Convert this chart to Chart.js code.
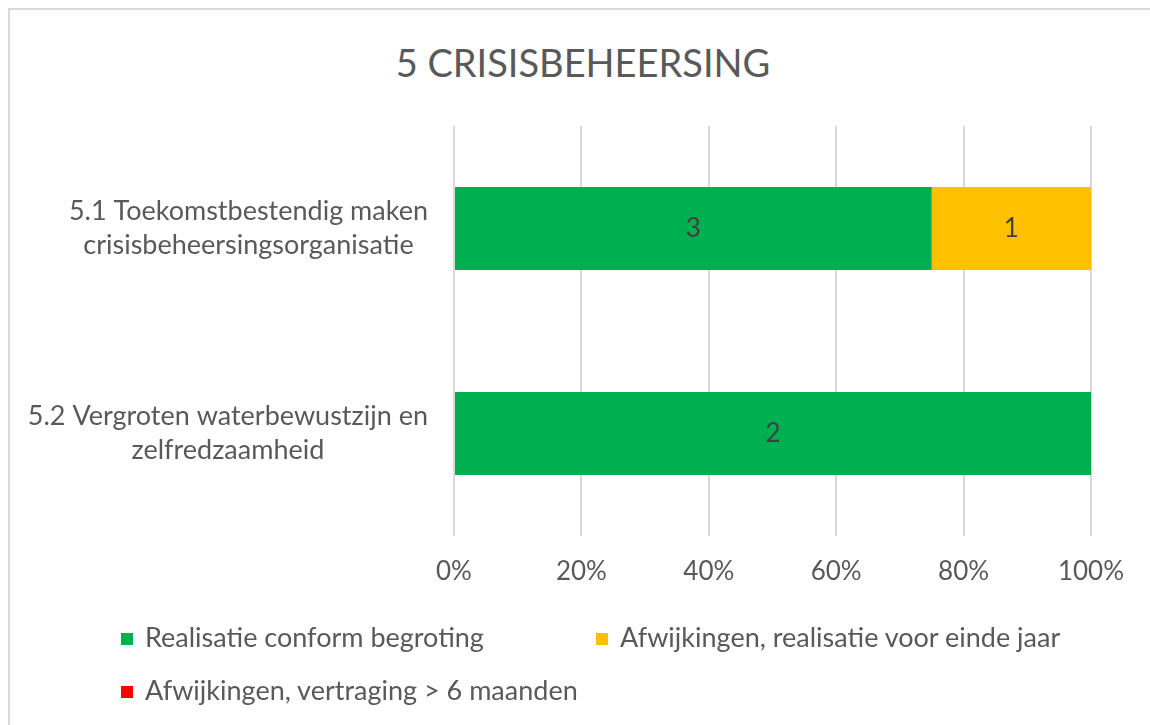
<!DOCTYPE html>
<html>
<head>
<meta charset="utf-8">
<script src="https://cdn.jsdelivr.net/npm/chart.js@4.4.1/dist/chart.umd.min.js"></script>
<style>
    html, body { margin: 0; padding: 0; background: #fff; overflow: hidden; }
    #wrap { position: relative; width: 1150px; height: 725px; font-family: 'Lato', 'Noto Sans', sans-serif; color: #595959; }
    #frame { position: absolute; left: 8px; top: 8px; width: 1160px; height: 740px; border: 2px solid #d9d9d9; box-sizing: border-box; }
    #title { position: absolute; left: 8px; width: 1150px; top: 37px; text-align: center; font-size: 38px; line-height: 50px; }
    canvas { position: absolute; left: 0; top: 0; }
    .legend-item { position: absolute; font-size: 27px; line-height: 30px; white-space: nowrap; }
    .legend-item span { display: inline-block; width: 12px; height: 12px; margin-right: 12px; vertical-align: 2px; }
</style>
</head>
<body>
<div id="wrap">
    <div id="frame"></div>
    <div id="title">5 CRISISBEHEERSING</div>
    <canvas id="crisisChart" width="1150" height="725"></canvas>
    <div id="legend"></div>
</div>
<script>
// Data
const categories = [
    ['5.1 Toekomstbestendig maken', 'crisisbeheersingsorganisatie'],
    ['5.2 Vergroten waterbewustzijn en', 'zelfredzaamheid']
];
const seriesNames = [
    'Realisatie conform begroting',
    'Afwijkingen, realisatie voor einde jaar',
    'Afwijkingen, vertraging > 6 maanden'
];
const conformValues = [3, 2];
const voorEindeJaarValues = [1, 0];
const vertragingValues = [0, 0];
const tickLabels = ['0%', '20%', '40%', '60%', '80%', '100%'];

const seriesColors = ['#00B050', '#FFC000', '#FF0000'];
const textColor = '#595959';
const fontFamily = "'Lato', 'Noto Sans', sans-serif";

// 100% stacked: share of each category total
const allSeries = [conformValues, voorEindeJaarValues, vertragingValues];
const totals = categories.map((c, i) => allSeries.reduce((s, arr) => s + arr[i], 0));
const toPercent = arr => arr.map((v, i) => totals[i] ? v / totals[i] * 100 : 0);

// Category labels: each line centred on the block, block right-aligned
const categoryLabelPlugin = {
    id: 'categoryLabels',
    afterDraw(chart) {
        const ctx = chart.ctx;
        const yScale = chart.scales.y;
        const right = 428;
        const lineH = 34;
        ctx.save();
        ctx.font = '27px ' + fontFamily;
        ctx.fillStyle = textColor;
        ctx.textAlign = 'center';
        ctx.textBaseline = 'middle';
        categories.forEach((lines, i) => {
            const y = yScale.getPixelForTick(i);
            const maxW = Math.max(...lines.map(l => ctx.measureText(l).width));
            const cx = right - maxW / 2;
            lines.forEach((line, j) => {
                ctx.fillText(line, cx, y + (j - (lines.length - 1) / 2) * lineH);
            });
        });
        ctx.restore();
    }
};

// Value labels in the middle of each segment
const valueLabelPlugin = {
    id: 'valueLabels',
    afterDatasetsDraw(chart) {
        const ctx = chart.ctx;
        ctx.save();
        ctx.font = '26px ' + fontFamily;
        ctx.fillStyle = '#404040';
        ctx.textAlign = 'center';
        ctx.textBaseline = 'middle';
        chart.data.datasets.forEach((ds, di) => {
            const meta = chart.getDatasetMeta(di);
            meta.data.forEach((bar, i) => {
                const count = allSeries[di][i];
                if (!count) return;
                ctx.fillText(String(count), (bar.x + bar.base) / 2, bar.y);
            });
        });
        ctx.restore();
    }
};

const ctx = document.getElementById('crisisChart').getContext('2d');
new Chart(ctx, {
    type: 'bar',
    data: {
        labels: categories,
        datasets: allSeries.map((arr, i) => ({
            label: seriesNames[i],
            data: toPercent(arr),
            backgroundColor: seriesColors[i],
            borderWidth: 0,
            barPercentage: 0.405,
            categoryPercentage: 1
        }))
    },
    options: {
        indexAxis: 'y',
        responsive: false,
        animation: false,
        layout: {
            padding: { left: 10, right: 59, top: 126, bottom: 137 }
        },
        plugins: {
            legend: { display: false },
            tooltip: { enabled: false }
        },
        scales: {
            x: {
                stacked: true,
                min: 0,
                max: 100,
                border: { display: false },
                grid: {
                    color: '#d9d9d9',
                    lineWidth: 2,
                    drawTicks: false
                },
                ticks: {
                    stepSize: 20,
                    color: textColor,
                    padding: 20,
                    maxRotation: 0,
                    font: { family: fontFamily, size: 26 },
                    callback: (value, index) => tickLabels[index]
                },
                afterFit(scale) { scale.height = 52; }
            },
            y: {
                stacked: true,
                border: { display: false },
                grid: { display: false },
                ticks: { display: false },
                afterFit(scale) { scale.width = 444; }
            }
        }
    },
    plugins: [categoryLabelPlugin, valueLabelPlugin]
});

// Legend as a two-column grid
const legendPos = [[121, 622], [596, 622], [121, 675]];
const legendEl = document.getElementById('legend');
seriesNames.forEach((name, i) => {
    const item = document.createElement('div');
    item.className = 'legend-item';
    item.style.left = legendPos[i][0] + 'px';
    item.style.top = legendPos[i][1] + 'px';
    item.innerHTML = '<span style="background:' + seriesColors[i] + '"></span>';
    item.appendChild(document.createTextNode(name));
    legendEl.appendChild(item);
});
</script>
</body>
</html>
